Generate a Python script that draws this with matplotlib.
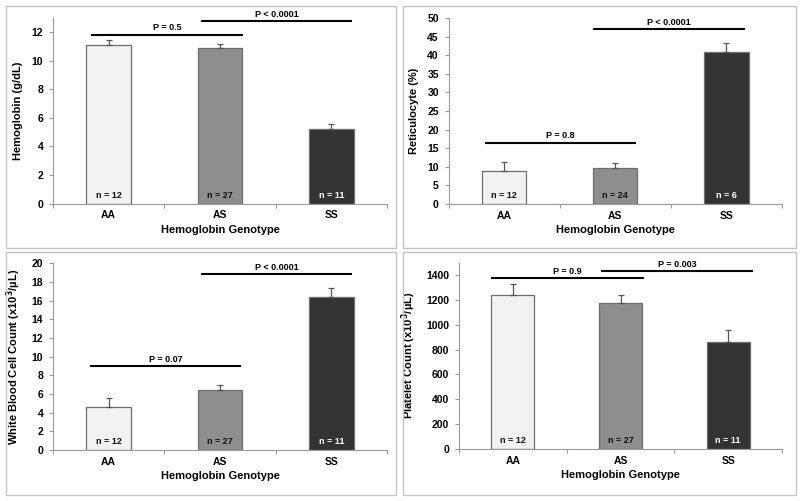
import matplotlib
matplotlib.use("Agg")
import matplotlib.pyplot as plt
from matplotlib.patches import Rectangle

plt.rcParams['font.family'] = ['Liberation Sans', 'DejaVu Sans']
plt.rcParams['font.weight'] = 'bold'

genotypes = ["AA", "AS", "SS"]
bar_colors = ["#f2f2f2", "#8e8e8e", "#333333"]
n_text_colors = ["#111111", "#111111", "#ffffff"]

hb_mean = [11.1, 10.9, 5.2]
hb_err = [0.35, 0.25, 0.4]
hb_n = [12, 27, 11]

retic_mean = [9.0, 9.6, 40.8]
retic_err = [2.2, 1.4, 2.6]
retic_n = [12, 24, 6]

wbc_mean = [4.65, 6.4, 16.4]
wbc_err = [0.9, 0.6, 1.0]
wbc_n = [12, 27, 11]

plt_mean = [1238, 1178, 862]
plt_err = [92, 63, 98]
plt_n = [12, 27, 11]

W, H = 800, 501
fig = plt.figure(figsize=(8, 5.01), dpi=100)

def px_axes(l, r, top, bottom):
    return fig.add_axes([l / W, (H - bottom) / H, (r - l) / W, (bottom - top) / H])

def frame(l, r, top, bottom):
    fig.patches.append(Rectangle((l / W, (H - bottom) / H), (r - l) / W, (bottom - top) / H,
                                 transform=fig.transFigure, fill=False,
                                 edgecolor="#c4c4c4", linewidth=1.0))

panels = [
    dict(ax=(53, 387, 18, 203.5), fr=(6, 396, 6, 248), mean=hb_mean, err=hb_err, n=hb_n,
         ylim=(0, 13), ticks=list(range(0, 13, 2)), ylabel="Hemoglobin (g/dL)",
         sig=[(-0.16, 1.21, 11.83, "P = 0.5"), (0.83, 2.19, 12.8, "P < 0.0001")]),
    dict(ax=(448.5, 782, 18, 204), fr=(403, 796, 6, 248), mean=retic_mean, err=retic_err, n=retic_n,
         ylim=(0, 50), ticks=list(range(0, 51, 5)), ylabel="Reticulocyte (%)",
         sig=[(-0.17, 1.19, 16.5, "P = 0.8"), (0.80, 2.17, 47.1, "P < 0.0001")]),
    dict(ax=(53, 387, 263.3, 450), fr=(6, 396, 252, 495), mean=wbc_mean, err=wbc_err, n=wbc_n,
         ylim=(0, 20), ticks=list(range(0, 21, 2)), ylabel="White Blood Cell Count (x10$^3$/µL)",
         sig=[(-0.17, 1.19, 9.0, "P = 0.07"), (0.83, 2.19, 18.82, "P < 0.0001")]),
    dict(ax=(459, 782, 262.6, 449), fr=(403, 796, 252, 495), mean=plt_mean, err=plt_err, n=plt_n,
         ylim=(0, 1500), ticks=list(range(0, 1401, 200)), ylabel="Platelet Count (x10$^3$/µL)",
         sig=[(-0.20, 1.22, 1373, "P = 0.9"), (0.82, 2.23, 1432, "P = 0.003")]),
]

for p in panels:
    frame(*p["fr"])
    ax = px_axes(*p["ax"])
    x = list(range(len(genotypes)))
    ax.bar(x, p["mean"], width=0.4, color=bar_colors, edgecolor="#6e6e6e", linewidth=0.9, zorder=2)
    ax.errorbar(x, p["mean"], yerr=[[0, 0, 0], p["err"]], fmt="none", ecolor="#555555",
                elinewidth=0.9, capsize=2.5, capthick=0.9, zorder=3)
    ax.set_xlim(-0.5, 2.5)
    ax.set_ylim(*p["ylim"])
    ax.set_yticks(p["ticks"])
    ax.set_yticklabels([str(t) for t in p["ticks"]], fontsize=7.5, fontweight="bold")
    ax.set_xticks([-0.5, 0.5, 1.5, 2.5])
    ax.set_xticklabels([])
    ax.set_xticks(x, minor=True)
    ax.set_xticklabels(genotypes, minor=True, fontsize=7.5, fontweight="bold")
    ax.tick_params(axis="x", which="minor", length=0, pad=5)
    ax.tick_params(axis="x", which="major", length=3, color="#9a9a9a", width=0.8)
    ax.tick_params(axis="y", length=3, color="#9a9a9a", width=0.8, pad=4)
    for s in ["top", "right"]:
        ax.spines[s].set_visible(False)
    for s in ["left", "bottom"]:
        ax.spines[s].set_color("#9a9a9a")
        ax.spines[s].set_linewidth(0.8)
    ax.set_xlabel("Hemoglobin Genotype", fontsize=8, fontweight="bold", labelpad=3)
    ax.set_ylabel(p["ylabel"], fontsize=8, fontweight="bold", labelpad=6)
    ymax = p["ylim"][1]
    for i, nv in enumerate(p["n"]):
        ax.text(i, ymax * 0.045, f"n = {nv}", ha="center", va="center", fontsize=6.5,
                fontweight="bold", color=n_text_colors[i], zorder=4)
    for x0, x1, yv, lab in p["sig"]:
        ax.plot([x0, x1], [yv, yv], color="black", linewidth=1.5, clip_on=False,
                solid_capstyle="butt", zorder=4)
        ax.text((x0 + x1) / 2, yv + ymax * 0.012, lab, ha="center", va="bottom", fontsize=6.5,
                fontweight="bold", clip_on=False)

fig.savefig("out.png", dpi=100)
